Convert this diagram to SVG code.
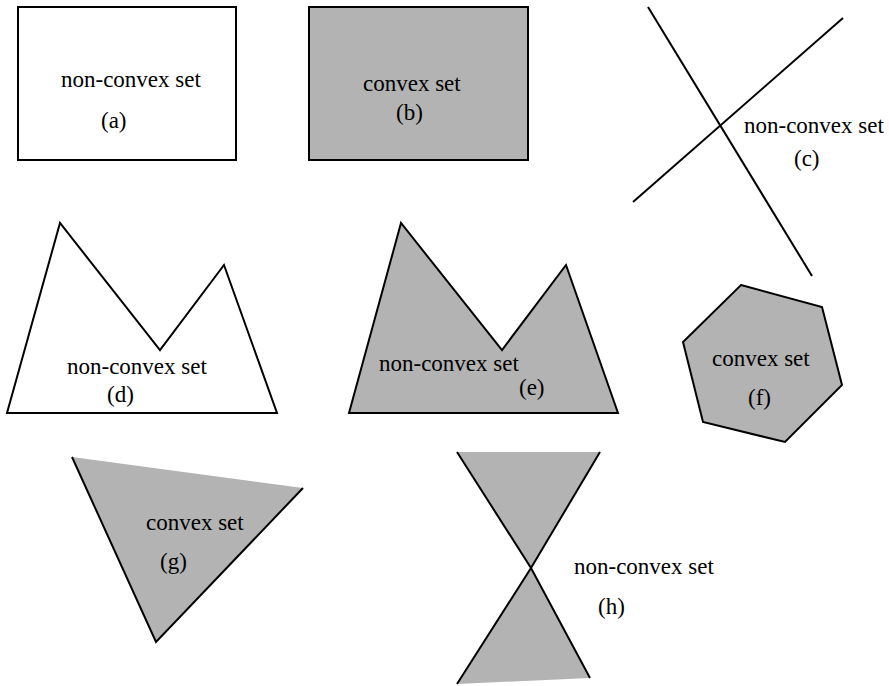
<svg xmlns="http://www.w3.org/2000/svg" width="889" height="686" viewBox="0 0 889 686">
<style>
.s{stroke:#000;stroke-width:2;stroke-linejoin:miter;fill:none}
.w{fill:#fff}
.g{fill:#b3b3b3}
text{font-family:"Liberation Serif","Times New Roman",serif;font-size:23px;fill:#000}
</style>
<rect width="889" height="686" fill="#fff"/>
<g id="a">
<rect class="s w" x="18" y="7" width="218" height="153"/>
<text x="61" y="87">non-convex set</text>
<text x="101" y="128">(a)</text>
</g>
<g id="b">
<rect class="s g" x="309" y="7" width="219" height="153"/>
<text x="363" y="91">convex set</text>
<text x="396" y="120">(b)</text>
</g>
<g id="c">
<line class="s" x1="648" y1="7" x2="812" y2="276"/>
<line class="s" x1="633" y1="202" x2="843" y2="18"/>
<text x="744" y="133">non-convex set</text>
<text x="794" y="166">(c)</text>
</g>
<g id="d">
<polygon class="s w" points="7,413 60,223 160,350 224,265 277,413"/>
<text x="67" y="374">non-convex set</text>
<text x="107" y="402">(d)</text>
</g>
<g id="e">
<polygon class="s g" points="349,413 401,223 502,350 566,265 618,413"/>
<text x="379" y="371">non-convex set</text>
<text x="519" y="395">(e)</text>
</g>
<g id="f">
<polygon class="s g" points="741,285 822,307 842,385 785,442 703,422 683,342"/>
<text x="712" y="366">convex set</text>
<text x="748" y="405">(f)</text>
</g>
<g id="g">
<polygon class="g" points="72,457 303,488 156,642"/>
<polyline class="s" points="72,457 156,642 303,488"/>
<text x="146" y="530">convex set</text>
<text x="160" y="569">(g)</text>
</g>
<g id="h">
<polygon class="g" points="457,452 600,452 531,568"/>
<polygon class="g" points="531,568 590,678 457,684"/>
<polyline class="s" points="457,452 531,568 590,678"/>
<polyline class="s" points="600,452 531,568 457,684"/>
<text x="574" y="574">non-convex set</text>
<text x="598" y="614">(h)</text>
</g>
<g id="connectors"/>
</svg>
